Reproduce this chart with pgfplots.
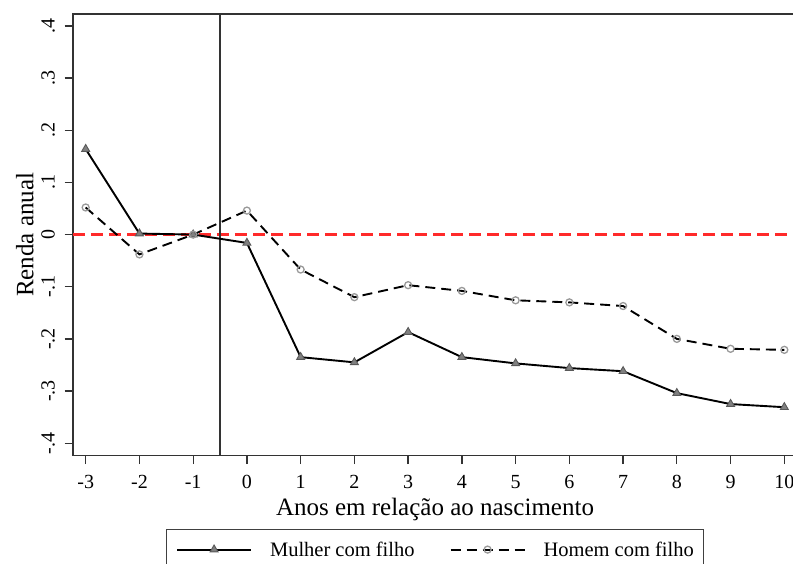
\documentclass[border=0pt]{standalone}
\usepackage{fontspec}
\setmainfont{Liberation Serif}
\usepackage{pgfplots}
\pgfplotsset{compat=1.18}
\definecolor{zred}{HTML}{FF2A2A}
\newcommand\tickfont{\fontsize{20}{24}\selectfont}
\newcommand\labfont{\fontsize{25}{30}\selectfont}

\begin{document}
\begin{tikzpicture}
\begin{axis}[
  width=724pt, height=441.7pt, scale only axis,
  xmin=-3.236, xmax=10.236, ymin=-0.424, ymax=0.423,
  xtick={-3,-2,-1,0,1,2,3,4,5,6,7,8,9,10},
  xticklabels={-3,-2,-1,0,1,2,3,4,5,6,7,8,9,10},
  ytick={-0.4,-0.3,-0.2,-0.1,0,0.1,0.2,0.3,0.4},
  yticklabels={-.4,-.3,-.2,-.1,0,.1,.2,.3,.4},
  xtick pos=left, ytick pos=left,
  tick align=outside, major tick length=8.5pt,
  tick style={black!80, line width=1.3pt},
  axis line style={black!80, line width=1.5pt},
  xticklabel style={font=\tickfont, inner sep=0pt},
  yticklabel style={font=\tickfont, inner sep=0pt, rotate=90, anchor=south},
  xticklabel shift=11pt, yticklabel shift=9.5pt,
  xlabel={Anos em relação ao nascimento},
  ylabel={Renda anual},
  xlabel style={font=\labfont, at={(axis description cs:0.5,-0.0958)}, anchor=north, inner sep=0pt},
  ylabel style={font=\labfont, at={(axis description cs:-0.0548,0.5)}, anchor=base, rotate=0, inner sep=0pt},
  legend columns=2,
  legend cell align=left,
  legend style={at={(0.5,-0.166)}, anchor=north, draw=black!75, line width=1.2pt,
    font=\fontsize{20.5}{24}\selectfont, inner xsep=10pt, inner ysep=12pt,
    nodes={inner sep=0pt},
    /tikz/every odd column/.append style={column sep=18pt},
    /tikz/column 2/.append style={column sep=35pt}},
  legend image code/.code={
    \draw[mark repeat=2, mark phase=2, #1] plot coordinates {(0pt,0pt) (37pt,0pt) (74pt,0pt)};
  },
]
\addplot[color=zred, line width=2.4pt, dash pattern=on 12pt off 6pt, forget plot]
  coordinates {(-3.236,0) (10.236,0)};
\draw[black!80, line width=1.5pt] (axis cs:-0.5,-0.424) -- (axis cs:-0.5,0.423);

\addplot[black, line width=1.9pt, mark=triangle*, mark size=4.6pt,
  mark options={solid, draw=black!65, fill=black!50, line width=0.9pt}]
  coordinates {(-3,0.164) (-2,0.002) (-1,0) (0,-0.016) (1,-0.235) (2,-0.245) (3,-0.187)
    (4,-0.235) (5,-0.247) (6,-0.256) (7,-0.262) (8,-0.304) (9,-0.325) (10,-0.331)};
\addlegendentry{Mulher com filho}
\addplot[black, line width=1.9pt, dash pattern=on 10pt off 6pt, mark=o, mark size=3.5pt,
  mark options={solid, draw=black!40, line width=1.3pt}]
  coordinates {(-3,0.052) (-2,-0.038) (-1,0) (0,0.046) (1,-0.067) (2,-0.120) (3,-0.097)
    (4,-0.108) (5,-0.126) (6,-0.130) (7,-0.137) (8,-0.200) (9,-0.219) (10,-0.221)};
\addlegendentry{Homem com filho}
\end{axis}
\pgfresetboundingbox
\useasboundingbox (-73pt,-107.3pt) rectangle (720pt,455.7pt);
\end{tikzpicture}
\end{document}
